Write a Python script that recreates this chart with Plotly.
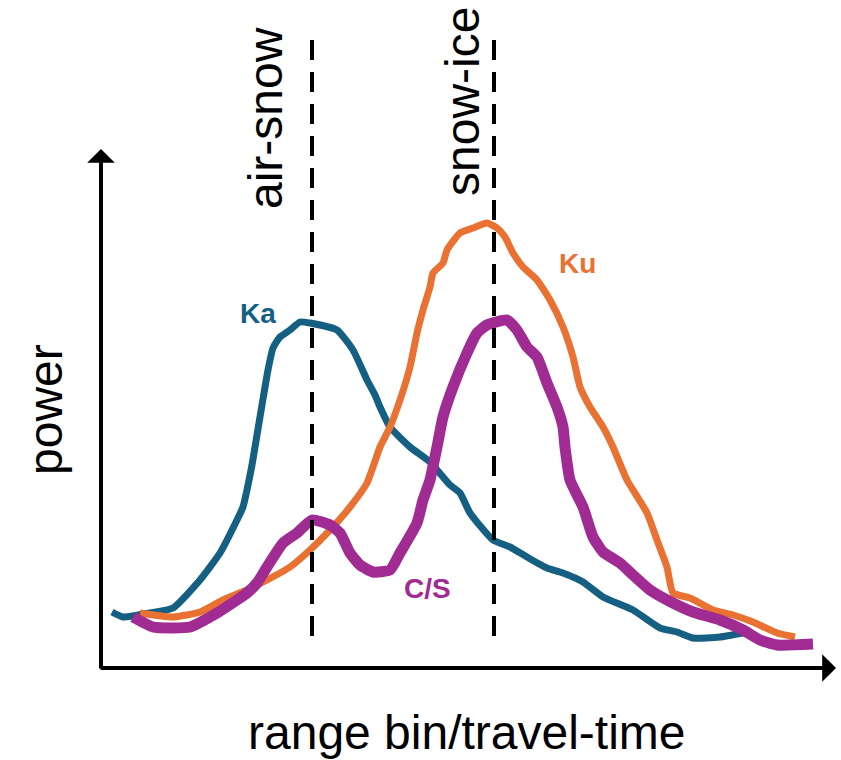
import plotly.graph_objects as go

# Data (x: range bin, y: power; arbitrary units)
ka_x = [11, 22, 49, 72, 99, 119, 136, 142, 146, 151, 156, 161, 167, 172, 179, 189, 199, 209, 236, 252, 266, 274, 279, 289, 309, 329, 349, 359, 369, 392, 409, 426, 446, 462, 482, 502, 532, 559, 576, 592, 619, 642]
ka_y = [56, 51, 55, 60, 88, 115, 148, 161, 178, 203, 233, 263, 298, 320, 331, 338, 346, 345, 338, 318, 288, 273, 261, 241, 221, 206, 183, 175, 155, 128, 121, 111, 100, 95, 86, 71, 58, 40, 36, 30, 31, 35]

ku_x = [39, 72, 99, 122, 146, 166, 189, 209, 229, 249, 266, 279, 289, 299, 309, 316, 322, 329, 332, 342, 346, 359, 372, 386, 396, 404, 412, 422, 436, 449, 462, 472, 479, 489, 502, 512, 526, 546, 556, 566, 572, 589, 612, 632, 652, 676, 694]
ku_y = [55, 51, 56, 68, 78, 88, 101, 118, 138, 161, 185, 221, 241, 268, 301, 335, 358, 381, 395, 405, 418, 435, 440, 445, 440, 431, 415, 401, 388, 368, 341, 311, 281, 261, 241, 221, 188, 155, 128, 101, 75, 70, 58, 53, 46, 35, 31]

cs_x = [32, 52, 72, 89, 116, 136, 146, 156, 166, 182, 196, 211, 229, 239, 249, 259, 272, 289, 299, 316, 322, 329, 336, 342, 352, 366, 376, 386, 406, 416, 426, 436, 446, 456, 462, 464, 469, 482, 492, 502, 519, 532, 549, 572, 592, 619, 642, 659, 676, 712]
cs_y = [51, 41, 40, 41, 55, 68, 75, 85, 101, 125, 135, 148, 143, 135, 115, 103, 96, 98, 115, 145, 168, 188, 221, 251, 281, 315, 335, 343, 348, 338, 321, 311, 285, 261, 241, 221, 188, 161, 131, 116, 105, 93, 78, 65, 56, 48, 38, 28, 23, 24]

interfaces = ["air-snow", "snow-ice"]
interface_x = [211, 393]

BLUE = "#156082"
ORANGE = "#E97132"
PURPLE = "#A02B93"
FONT = "Liberation Sans, Arial, sans-serif"

fig = go.Figure()
fig.add_trace(go.Scatter(x=ka_x, y=ka_y, mode="lines",
                         line=dict(color=BLUE, width=7, shape="spline", smoothing=0.5), name="Ka"))
fig.add_trace(go.Scatter(x=ku_x, y=ku_y, mode="lines",
                         line=dict(color=ORANGE, width=7, shape="spline", smoothing=0.5), name="Ku"))
fig.add_trace(go.Scatter(x=cs_x, y=cs_y, mode="lines",
                         line=dict(color=PURPLE, width=11, shape="spline", smoothing=0.5), name="C/S"))

shapes = []
annotations = []
for name, xv, tx, ty in zip(interfaces, interface_x, [164, 361], [550, 566]):
    shapes.append(dict(type="line", xref="x", yref="y", x0=xv, x1=xv, y0=628, y1=25,
                       line=dict(color="black", width=4, dash="20px,12px")))
    annotations.append(dict(x=tx, y=ty, xref="x", yref="y", text=name, showarrow=False,
                            textangle=-90, font=dict(family=FONT, size=48, color="black")))

# axes with arrows
annotations.append(dict(x=0, y=519, ax=0, ay=-2, xref="x", yref="y", axref="x", ayref="y",
                        text="", showarrow=True, arrowhead=1, arrowsize=1.15, arrowwidth=4,
                        arrowcolor="black"))
annotations.append(dict(x=735, y=0, ax=-2, ay=0, xref="x", yref="y", axref="x", ayref="y",
                        text="", showarrow=True, arrowhead=1, arrowsize=1.15, arrowwidth=4,
                        arrowcolor="black"))

annotations.append(dict(x=-56, y=258, xref="x", yref="y", text="power", showarrow=False,
                        textangle=-90, font=dict(family=FONT, size=48, color="black")))
annotations.append(dict(x=366, y=-64, xref="x", yref="y", text="range bin/travel-time", showarrow=False,
                        borderpad=0, font=dict(family=FONT, size=48, color="black")))

for txt, col, lx, ly in [("Ka", BLUE, 157, 355), ("Ku", ORANGE, 476, 405), ("C/S", PURPLE, 326, 80)]:
    annotations.append(dict(x=lx, y=ly, xref="x", yref="y", text="<b>" + txt + "</b>", showarrow=False,
                            font=dict(family=FONT, size=28, color=col)))

fig.update_layout(
    width=841, height=760,
    margin=dict(l=0, r=0, t=0, b=0),
    paper_bgcolor="white", plot_bgcolor="white",
    showlegend=False,
    xaxis=dict(range=[-101, 740], visible=False, fixedrange=True),
    yaxis=dict(range=[-92, 668], visible=False, fixedrange=True),
    shapes=shapes,
    annotations=annotations,
)

fig.write_html("out.html")
